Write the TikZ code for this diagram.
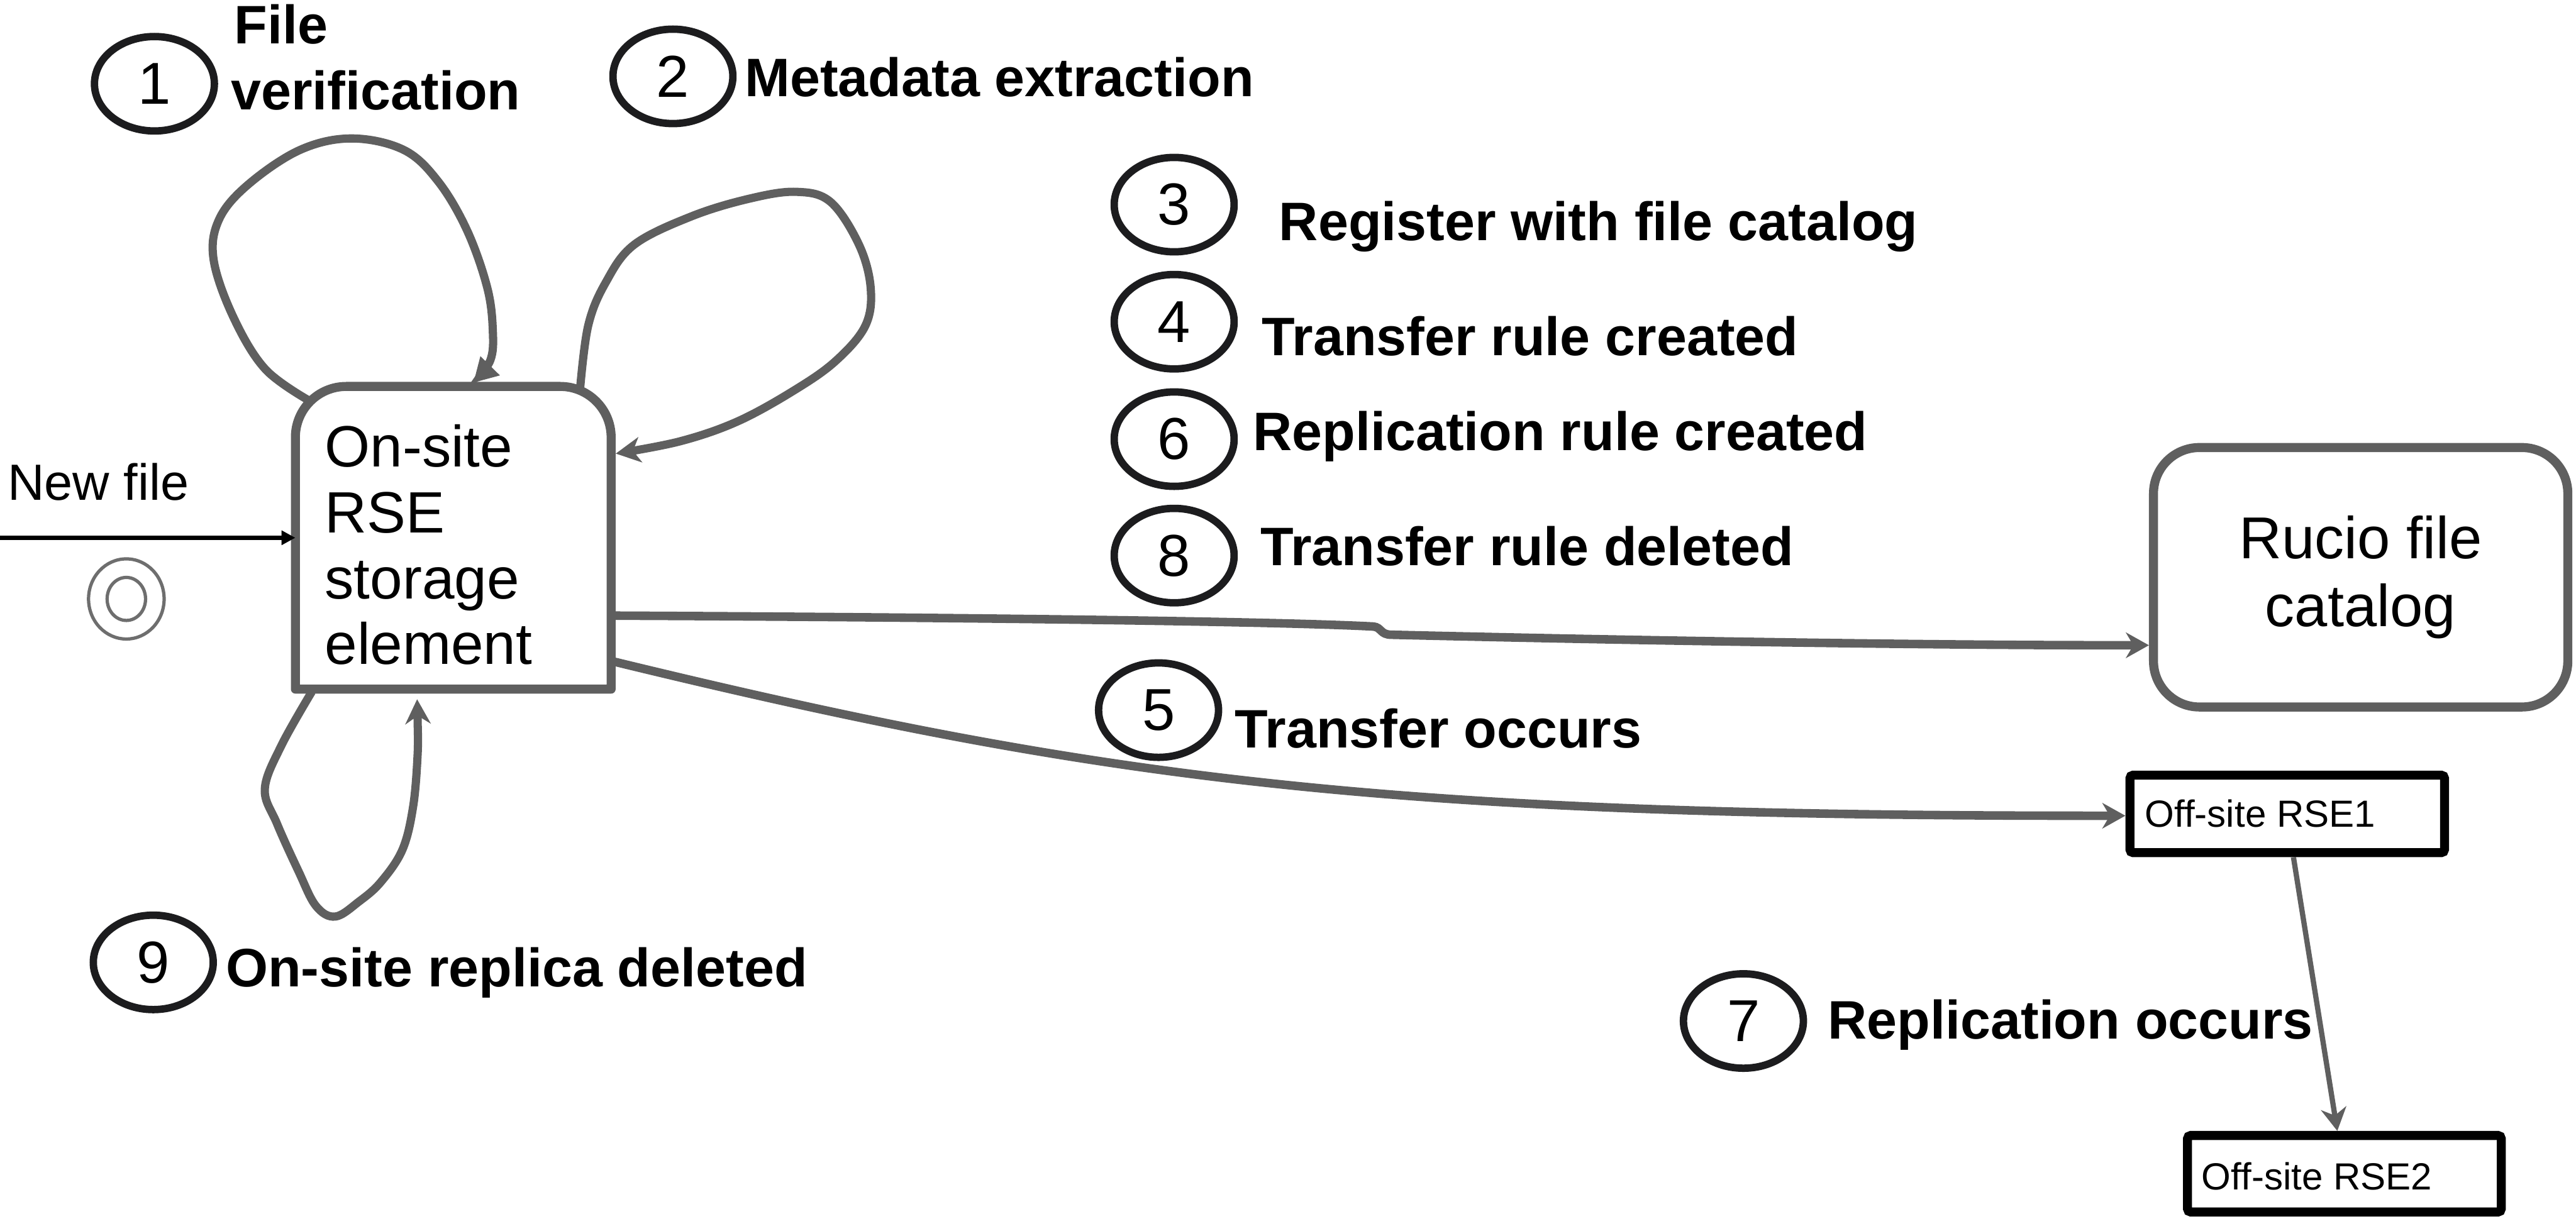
\documentclass[tikz,border=0pt]{standalone}
\usepackage{fontspec}
\setmainfont{Liberation Sans}
\usetikzlibrary{arrows.meta,shapes.geometric}
\definecolor{gr}{HTML}{5F5F5F}
\definecolor{ink}{HTML}{1C1C1E}
\definecolor{lg}{HTML}{6E6E6E}
\begin{document}
\begin{tikzpicture}[x=1pt,y=-1pt,
  stepcirc/.style={draw=ink, line width=4.5pt, ellipse, minimum width=73pt,
    minimum height=57.5pt, inner sep=0pt, font=\fontsize{36}{40}\selectfont},
  lbl/.style={anchor=base west, inner sep=0pt, font=\bfseries\fontsize{33}{40}\selectfont},
  boxline/.style={draw=gr, line width=5.5pt, line join=round},
  tipS/.style={-{Stealth[length=14pt,width=15.5pt,inset=4.5pt]}},
  flow/.style={draw=gr, line width=5.2pt, tipS},
  flowthin/.style={draw=gr, line width=3.2pt, tipS},
  offbox/.style={draw=black, line width=5.5pt, rounded corners=2pt, inner sep=0pt},
  offtxt/.style={anchor=base west, inner sep=0pt, font=\fontsize{23}{27}\selectfont}]
\useasboundingbox (0,0) rectangle (1568,742);

% on-site storage element
\node[inner sep=0pt, outer sep=0pt, minimum width=192.2pt, minimum height=184.3pt] (os) at (275.9,327.45) {};
\draw[boxline] (os.south west) -- ([yshift=-31pt]os.north west)
  arc[start angle=180, end angle=90, radius=31pt] -- ([xshift=-31pt]os.north east)
  arc[start angle=90, end angle=0, radius=31pt] -- (os.south east) -- cycle;
% the base anchor of a multi-line node sits on its last line
\node[anchor=base west, inner sep=0pt, align=left, font=\fontsize{35.5}{40.1}\selectfont] (ostxt)
  at (197.5,404.6) {On-site\\RSE\\storage\\element};

% catalog and remote storage
\node[draw=gr, line width=5.5pt, rounded corners=28pt, minimum width=252.2pt, minimum height=158pt,
  align=center, font=\fontsize{36}{41}\selectfont] (rucio) at (1436.9,351.5) {Rucio file\\catalog};
\node[offbox, minimum width=191.5pt, minimum height=47.2pt] (rse1) at (1392.2,495.6) {};
\node[offtxt] (rse1txt) at (1305.5,503.7) {Off-site RSE1};
\node[offbox, minimum width=191pt, minimum height=46.6pt] (rse2) at (1427,714.7) {};
\node[offtxt] (rse2txt) at (1340,724.4) {Off-site RSE2};

% incoming file
\coordinate (nfs) at (0,327.45);
\draw[black, line width=2.6pt, -{Triangle[length=8.4pt,width=8.4pt]}] (nfs) -- (os.west);
\node[anchor=base west, inner sep=0pt, font=\fontsize{31}{36}\selectfont] (nftxt) at (4.5,304.6) {New file};
\node[draw=lg, line width=2pt, ellipse, inner sep=0pt, minimum width=46pt, minimum height=48.8pt] (initO) at (76.9,364.7) {};
\node[draw=lg, line width=2pt, ellipse, inner sep=0pt, minimum width=23.4pt, minimum height=26.2pt] (initI) at (76.9,364.7) {};

% self loops on the storage element
\coordinate (l1s) at ([xshift=9pt,yshift=-9pt]os.north west);
\coordinate (l1e) at ([xshift=12.2pt,yshift=2.2pt]os.north);
\draw[draw=gr, line width=5pt, -{Triangle[length=14.6pt,width=15.6pt]}]
  plot[smooth, tension=0.6] coordinates {(l1s) (161.5,224.8) (142,193) (130,158) (133.4,133.5)
  (151,112.4) (182.6,91.3) (214,84.3) (245.8,91.3) (266.8,110.6) (284.4,140.5) (296.7,175.6)
  (300,202) (298.4,219.5) (l1e)};

\coordinate (l2s) at ([xshift=-19pt,yshift=-2.5pt]os.north east);
\coordinate (l2e) at ([xshift=2.8pt,yshift=51.25pt]os.east);
\draw[draw=gr, line width=5pt, -{Stealth[length=15pt,width=15.4pt,inset=4.4pt]}]
  plot[smooth, tension=0.6] coordinates {(l2s) (358,198.4) (368.7,172) (386,149) (421,131.7)
  (456,121) (484.5,116.8) (505.6,123) (523,149.3) (530,175.6) (526.7,198.4) (509,219.5)
  (484.5,237) (449.4,256.4) (414,268.7) (l2e)};

\coordinate (l9s) at ([xshift=10pt,yshift=-1.6pt]os.south west);
\coordinate (l9e) at ([xshift=-22pt,yshift=-6.2pt]os.south);
\draw[draw=gr, line width=5pt, -{Stealth[length=15pt,width=15.4pt,inset=5pt]}]
  plot[smooth, tension=0.6] coordinates {(l9s) (171.2,454.1) (161.2,480.4) (168.6,501.5)
  (181.7,530.5) (192.3,551.6) (204.1,558.1) (218.6,548.9) (231.8,537.1) (245,517.3)
  (251.5,490.9) (254.2,459.4) (254.2,438.3) (l9e)};

% transfers
\draw[flow] ([yshift=-47.4pt]os.east) .. controls (600,376) and (780,378.5) .. (836,381.5)
  .. controls (841,382) and (840,386.5) .. (847,386.5)
  .. controls (950,389) and (1150,393) .. ([yshift=-41.4pt]rucio.west);
\draw[flow] ([yshift=-75pt]os.east) .. controls (674,476) and (844,497) .. ([yshift=-1.1pt]rse1.west);
\draw[flowthin] ([xshift=3.8pt]rse1.south) -- ([xshift=-4.3pt]rse2.north);

% numbered steps
\node[stepcirc] (c1) at (94,51) {1};
\node[lbl] (t1) at (142.5,26.7) {File};
\node[lbl] (t1b) at (140.5,66.7) {verification};
\node[stepcirc] (c2) at (409.6,46.5) {2};
\node[lbl] (t2) at (453.2,58.8) {Metadata extraction};
\node[stepcirc] (c3) at (714.7,124.6) {3};
\node[lbl] (t3) at (778.4,146.4) {Register with file catalog};
\node[stepcirc] (c4) at (714.7,195.9) {4};
\node[lbl] (t4) at (768,216.4) {Transfer rule created};
\node[stepcirc] (c6) at (714.7,267.4) {6};
\node[lbl] (t6) at (762.5,274.3) {Replication rule created};
\node[stepcirc] (c8) at (714.7,338.3) {8};
\node[lbl] (t8) at (767,344.3) {Transfer rule deleted};
\node[stepcirc] (c5) at (705.2,432.4) {5};
\node[lbl] (t5) at (751.5,455.3) {Transfer occurs};
\node[stepcirc] (c7) at (1061.2,621.7) {7};
\node[lbl] (t7) at (1112.5,632.4) {Replication occurs};
\node[stepcirc] (c9) at (93.3,586) {9};
\node[lbl] (t9) at (137.3,600.8) {On-site replica deleted};
\end{tikzpicture}
\end{document}
